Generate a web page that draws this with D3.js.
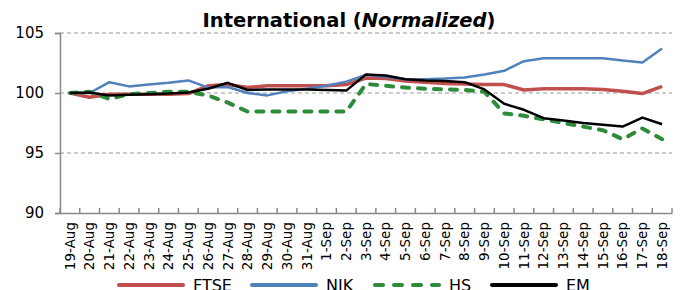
<!DOCTYPE html>
<html>
<head>
<meta charset="utf-8">
<script src="https://cdn.jsdelivr.net/npm/d3@7"></script>
<style>
  body { margin: 0; background: #fff; }
  svg { display: block; font-family: "DejaVu Sans", Verdana, sans-serif; }
</style>
</head>
<body>
<svg id="chart" width="683" height="290"></svg>
<script>
// dates on the x axis
var dates = ["19-Aug","20-Aug","21-Aug","22-Aug","23-Aug","24-Aug","25-Aug","26-Aug","27-Aug","28-Aug",
  "29-Aug","30-Aug","31-Aug","1-Sep","2-Sep","3-Sep","4-Sep","5-Sep","6-Sep","7-Sep","8-Sep","9-Sep",
  "10-Sep","11-Sep","12-Sep","13-Sep","14-Sep","15-Sep","16-Sep","17-Sep","18-Sep"];

var ftse = [100, 99.65, 99.9, 99.9, 99.9, 99.9, 99.95, 100.6, 100.7, 100.45, 100.6, 100.6, 100.6, 100.6, 100.7,
  101.25, 101.2, 101.0, 100.9, 100.8, 100.75, 100.7, 100.7, 100.25, 100.35, 100.35, 100.35, 100.3, 100.15, 99.95, 100.55];
var nik = [100, 100, 100.9, 100.55, 100.7, 100.85, 101.05, 100.45, 100.5, 100.0, 99.8, 100.15, 100.35, 100.6, 100.95,
  101.5, 101.35, 101.15, 101.15, 101.2, 101.3, 101.55, 101.85, 102.65, 102.9, 102.9, 102.9, 102.9, 102.7, 102.55, 103.7];
var hs = [100, 100.1, 99.5, 99.9, 100.0, 100.1, 100.1, 99.8, 99.2, 98.45, 98.45, 98.45, 98.45, 98.45, 98.45,
  100.75, 100.6, 100.45, 100.35, 100.3, 100.25, 100.1, 98.3, 98.1, 97.8, 97.5, 97.2, 96.9, 96.15, 97.05, 96.15];
var em = [100, 100.05, 99.8, 99.85, 99.9, 99.95, 100.05, 100.35, 100.85, 100.25, 100.3, 100.3, 100.3, 100.25, 100.2,
  101.55, 101.45, 101.15, 101.05, 101.0, 100.9, 100.3, 99.1, 98.6, 97.9, 97.7, 97.5, 97.35, 97.2, 97.95, 97.4];

var yTicks = [90, 95, 100, 105];

var series = [
  {name: "FTSE", values: ftse, color: "#c0504d", width: 3.5, dash: null},
  {name: "NIK",  values: nik,  color: "#4f81bd", width: 2.5, dash: null},
  {name: "HS",   values: hs,   color: "#2e8b3a", width: 4,   dash: "7,9"},
  {name: "EM",   values: em,   color: "#000000", width: 2.5, dash: null}
];

var margin = {left: 60, right: 11, top: 33, bottom: 77};
var svg = d3.select("#chart");
var W = 683, H = 290;

var x = d3.scaleBand().domain(dates).range([margin.left, W - margin.right]);
var y = d3.scaleLinear().domain([90, 105]).range([H - margin.bottom, margin.top]);

// title
var title = svg.append("text")
    .attr("x", 349).attr("y", 27)
    .attr("text-anchor", "middle")
    .style("font-size", "19.5px").style("font-weight", "bold");
title.append("tspan").text("International (");
title.append("tspan").style("font-style", "italic").text("Normalized");
title.append("tspan").text(")");

// gridlines
svg.append("g").selectAll("line")
    .data(yTicks.filter(function(d) { return d > 90; }))
    .enter().append("line")
    .attr("x1", margin.left).attr("x2", W - margin.right)
    .attr("y1", function(d) { return y(d); }).attr("y2", function(d) { return y(d); })
    .attr("stroke", "#999").attr("stroke-width", 1.2).attr("stroke-dasharray", "4,3");

// y axis
var yAxis = svg.append("g")
    .attr("transform", "translate(" + margin.left + ",0)")
    .call(d3.axisLeft(y).tickValues(yTicks).tickSize(5).tickPadding(11));
yAxis.select(".domain").attr("stroke", "#888").attr("stroke-width", 1.5);
yAxis.selectAll(".tick line").attr("stroke", "#888").attr("stroke-width", 1.5);
yAxis.selectAll("text").style("font-size", "15px").attr("fill", "#000")
    .style("font-family", "DejaVu Sans, sans-serif");

// x axis, ticks between categories
var xAxis = svg.append("g")
    .attr("transform", "translate(0," + y(90) + ")")
    .call(d3.axisBottom(x).tickSize(0).tickSizeOuter(0));
xAxis.select(".domain").attr("stroke", "#888").attr("stroke-width", 1.5);
xAxis.selectAll("text")
    .style("font-size", "13.5px").attr("fill", "#000")
    .style("font-family", "DejaVu Sans, sans-serif")
    .attr("text-anchor", "end")
    .attr("transform", "rotate(-90)")
    .attr("x", -9).attr("y", 0).attr("dy", "0.35em");
xAxis.selectAll(".bound")
    .data(dates.concat(["end"]))
    .enter().append("line")
    .attr("class", "bound")
    .attr("x1", function(d, i) { return margin.left + i * x.step(); })
    .attr("x2", function(d, i) { return margin.left + i * x.step(); })
    .attr("y1", 0).attr("y2", -5)
    .attr("stroke", "#888").attr("stroke-width", 1.5);

// lines
var line = d3.line()
    .x(function(d, i) { return x(dates[i]) + x.bandwidth() / 2; })
    .y(function(d) { return y(d); });

svg.append("g").selectAll("path")
    .data(series)
    .enter().append("path")
    .attr("d", function(s) { return line(s.values); })
    .attr("fill", "none")
    .attr("stroke", function(s) { return s.color; })
    .attr("stroke-width", function(s) { return s.width; })
    .attr("stroke-linejoin", "round")
    .attr("stroke-linecap", function(s) { return s.dash ? "round" : "butt"; })
    .attr("stroke-dasharray", function(s) { return s.dash; });

// legend
var legendX = [117, 250, 373, 490];
var leg = svg.append("g").selectAll("g")
    .data(series)
    .enter().append("g")
    .attr("transform", function(s, i) { return "translate(" + legendX[i] + ",285)"; });
leg.append("line")
    .attr("x1", 2).attr("x2", 66).attr("y1", 0).attr("y2", 0)
    .attr("stroke", function(s) { return s.color; })
    .attr("stroke-width", 4)
    .attr("stroke-linecap", "round")
    .attr("stroke-dasharray", function(s) { return s.dash ? "8,11" : null; });
leg.append("text")
    .attr("x", 76).attr("y", 6)
    .style("font-size", "16px")
    .text(function(s) { return s.name; });
</script>
</body>
</html>
